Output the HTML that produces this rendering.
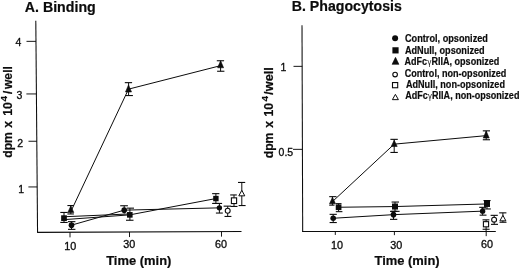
<!DOCTYPE html>
<html lang="en">
<head>
<meta charset="utf-8">
<title>Binding and Phagocytosis</title>
<style>
html,body{margin:0;padding:0;background:#fff;}
svg{display:block;}
svg text{font-family:"Liberation Sans",Arial,Helvetica,sans-serif;fill:#0c0c0c;stroke:#0c0c0c;stroke-width:0.2px;stroke-linejoin:round;}
svg text.n{stroke-width:0.32px;}
svg text tspan.g{stroke-width:0;}
</style>
</head>
<body>
<svg width="520" height="269" viewBox="0 0 520 269" stroke="#0c0c0c" fill="none">
<rect x="0" y="0" width="520" height="269" fill="#fff" stroke="none"/>
<g transform="translate(0,0.15)">
<line x1="35.8" y1="20.5" x2="37.55" y2="232.4" stroke-width="1.05"/>
<line x1="37.1" y1="232.2" x2="241.5" y2="231.4" stroke-width="1.1"/>
<line x1="26.5" y1="41.2" x2="36.0" y2="41.2" stroke-width="0.95"/>
<line x1="26.4" y1="93.8" x2="36.4" y2="93.8" stroke-width="0.95"/>
<line x1="28.5" y1="141.1" x2="36.9" y2="141.1" stroke-width="0.95"/>
<line x1="28.4" y1="186.8" x2="37.2" y2="186.8" stroke-width="0.95"/>
<line x1="70" y1="232.0" x2="70" y2="237.2" stroke-width="0.95"/>
<line x1="129.5" y1="231.8" x2="129.5" y2="236.9" stroke-width="0.95"/>
<line x1="221.5" y1="231.4" x2="221.5" y2="236.5" stroke-width="0.95"/>
<polyline points="70.8,211.5 128.5,89 220.6,65.5" fill="none" stroke-width="1.0"/>
<polyline points="64,219.5 129.8,214.7 215.9,198.4" fill="none" stroke-width="1.0"/>
<line x1="64" y1="216.6" x2="129.8" y2="213.8" stroke-width="1.0"/>
<polyline points="71.5,225 124.2,210 219.4,207.7" fill="none" stroke-width="1.0"/>
<line x1="70.8" y1="205.4" x2="70.8" y2="213.8" stroke-width="1.0"/>
<line x1="67.4" y1="205.4" x2="73.9" y2="205.4" stroke-width="1.1"/>
<line x1="67.4" y1="213.8" x2="73.9" y2="213.8" stroke-width="1.1"/>
<polygon points="70.8,205.8 73.8,212.4 67.8,212.4" fill="#0c0c0c" stroke-width="0.6" stroke-linejoin="miter"/>
<line x1="128.6" y1="82.5" x2="128.6" y2="95.4" stroke-width="1.0"/>
<line x1="124.8" y1="82.5" x2="132.1" y2="82.5" stroke-width="1.1"/>
<line x1="126" y1="95.4" x2="132.9" y2="95.4" stroke-width="1.1"/>
<polygon points="128.5,84.8 131.5,91.8 125.5,91.8" fill="#0c0c0c" stroke-width="0.6" stroke-linejoin="miter"/>
<line x1="220.6" y1="60.6" x2="220.6" y2="71.1" stroke-width="1.0"/>
<line x1="216.8" y1="60.6" x2="224.1" y2="60.6" stroke-width="1.1"/>
<line x1="217.1" y1="71.1" x2="224.4" y2="71.1" stroke-width="1.1"/>
<polygon points="220.6,60.7 223.6,67.6 217.6,67.6" fill="#0c0c0c" stroke-width="0.6" stroke-linejoin="miter"/>
<line x1="64" y1="212.3" x2="64" y2="222.3" stroke-width="1.0"/>
<line x1="60.3" y1="212.3" x2="67.7" y2="212.3" stroke-width="1.1"/>
<line x1="60.3" y1="222.3" x2="67.7" y2="222.3" stroke-width="1.1"/>
<rect x="61.15" y="215.15" width="5.7" height="5.7" fill="#0c0c0c" stroke="none"/>
<line x1="129.9" y1="208" x2="129.9" y2="220.1" stroke-width="1.0"/>
<line x1="126.8" y1="208" x2="134" y2="208" stroke-width="1.1"/>
<line x1="126" y1="220.1" x2="133.5" y2="220.1" stroke-width="1.1"/>
<rect x="127.00" y="211.90" width="5.6" height="5.6" fill="#0c0c0c" stroke="none"/>
<line x1="215.9" y1="193.5" x2="215.9" y2="203.3" stroke-width="1.0"/>
<line x1="212.1" y1="193.5" x2="219.4" y2="193.5" stroke-width="1.1"/>
<line x1="212.1" y1="203.3" x2="219.4" y2="203.3" stroke-width="1.1"/>
<rect x="213.20" y="195.70" width="5.4" height="5.4" fill="#0c0c0c" stroke="none"/>
<line x1="71.5" y1="221.5" x2="71.5" y2="229.2" stroke-width="1.0"/>
<line x1="68" y1="221.5" x2="75.4" y2="221.5" stroke-width="1.1"/>
<line x1="68" y1="229.2" x2="75.4" y2="229.2" stroke-width="1.1"/>
<circle cx="71.5" cy="225" r="2.8" fill="#0c0c0c" stroke="none"/>
<line x1="124.2" y1="205.6" x2="124.2" y2="213.5" stroke-width="1.0"/>
<line x1="120.2" y1="205.6" x2="127.9" y2="205.6" stroke-width="1.1"/>
<line x1="124.2" y1="213.5" x2="124.2" y2="213.5" stroke-width="1.1"/>
<circle cx="124.2" cy="210" r="2.8" fill="#0c0c0c" stroke="none"/>
<line x1="219.4" y1="203.3" x2="219.4" y2="212.9" stroke-width="1.0"/>
<line x1="213" y1="203.3" x2="222.1" y2="203.3" stroke-width="1.1"/>
<line x1="215.9" y1="212.9" x2="222.8" y2="212.9" stroke-width="1.1"/>
<circle cx="219.4" cy="207.7" r="2.7" fill="#0c0c0c" stroke="none"/>
<line x1="227.7" y1="206" x2="227.7" y2="216.3" stroke-width="1.0"/>
<line x1="223.6" y1="206" x2="231.1" y2="206" stroke-width="1.1"/>
<line x1="224.5" y1="216.3" x2="231.4" y2="216.3" stroke-width="1.1"/>
<circle cx="227.7" cy="210.6" r="2.45" fill="#fff" stroke-width="1.1"/>
<line x1="234" y1="194.8" x2="234" y2="206.3" stroke-width="1.0"/>
<line x1="230.2" y1="194.8" x2="236.8" y2="194.8" stroke-width="1.1"/>
<line x1="230.6" y1="206.3" x2="237.5" y2="206.3" stroke-width="1.1"/>
<rect x="231.4" y="197.7" width="5.2" height="5.7" fill="#fff" stroke-width="1.1"/>
<line x1="241.8" y1="182.3" x2="241.8" y2="205.4" stroke-width="1.0"/>
<line x1="238" y1="182.3" x2="245.2" y2="182.3" stroke-width="1.1"/>
<line x1="238.6" y1="205.4" x2="245.6" y2="205.4" stroke-width="1.1"/>
<polygon points="241.8,190.2 244.8,195.7 238.8,195.7" fill="#fff" stroke-width="1.0" stroke-linejoin="miter"/>
<line x1="302.0" y1="25" x2="302.7" y2="231.8" stroke-width="1.05"/>
<line x1="302.3" y1="231.3" x2="495.8" y2="231.3" stroke-width="1.1"/>
<line x1="293.5" y1="66.2" x2="302.2" y2="66.2" stroke-width="0.95"/>
<line x1="293.0" y1="149.2" x2="302.4" y2="149.2" stroke-width="0.95"/>
<line x1="335.3" y1="231.3" x2="335.3" y2="234.8" stroke-width="0.95"/>
<line x1="394.4" y1="231.3" x2="394.4" y2="235" stroke-width="0.95"/>
<line x1="486.2" y1="231.3" x2="486.2" y2="236.0" stroke-width="0.95"/>
<polyline points="332.4,201.5 394.2,144 486.2,135.5" fill="none" stroke-width="1.0"/>
<polyline points="338.6,207.1 395,206.4 487,203.8" fill="none" stroke-width="1.0"/>
<polyline points="333.2,218.1 393.5,214.5 482.6,211" fill="none" stroke-width="1.0"/>
<line x1="332.4" y1="196.5" x2="332.4" y2="205" stroke-width="1.0"/>
<line x1="329.2" y1="196.5" x2="336.5" y2="196.5" stroke-width="1.1"/>
<line x1="329.2" y1="205" x2="334.5" y2="205" stroke-width="1.1"/>
<polygon points="332.5,197.2 335.5,203.6 329.5,203.6" fill="#0c0c0c" stroke-width="0.6" stroke-linejoin="miter"/>
<line x1="394.2" y1="139.2" x2="394.2" y2="152.3" stroke-width="1.0"/>
<line x1="390.4" y1="139.2" x2="397.8" y2="139.2" stroke-width="1.1"/>
<line x1="390.4" y1="152.3" x2="397.8" y2="152.3" stroke-width="1.1"/>
<polygon points="394.2,140.2 397.2,146.3 391.2,146.3" fill="#0c0c0c" stroke-width="0.6" stroke-linejoin="miter"/>
<line x1="486.2" y1="130.7" x2="486.2" y2="139.6" stroke-width="1.0"/>
<line x1="482.8" y1="130.7" x2="490" y2="130.7" stroke-width="1.1"/>
<line x1="482.8" y1="139.6" x2="490" y2="139.6" stroke-width="1.1"/>
<polygon points="486.2,130.8 489.2,137.9 483.2,137.9" fill="#0c0c0c" stroke-width="0.6" stroke-linejoin="miter"/>
<line x1="338.6" y1="203.5" x2="338.6" y2="211.5" stroke-width="1.0"/>
<line x1="335.8" y1="203.5" x2="341.5" y2="203.5" stroke-width="1.1"/>
<line x1="335.8" y1="211.5" x2="342.4" y2="211.5" stroke-width="1.1"/>
<rect x="335.75" y="204.25" width="5.7" height="5.7" fill="#0c0c0c" stroke="none"/>
<line x1="395" y1="201.9" x2="395" y2="211.2" stroke-width="1.0"/>
<line x1="391.6" y1="201.9" x2="399" y2="201.9" stroke-width="1.1"/>
<line x1="391.2" y1="211.2" x2="399.6" y2="211.2" stroke-width="1.1"/>
<rect x="392.00" y="203.40" width="6.0" height="6.0" fill="#0c0c0c" stroke="none"/>
<line x1="487" y1="200.4" x2="487" y2="208.8" stroke-width="1.0"/>
<line x1="483.5" y1="200.4" x2="490.6" y2="200.4" stroke-width="1.1"/>
<line x1="481.2" y1="208.8" x2="490.8" y2="208.8" stroke-width="1.1"/>
<rect x="484.00" y="200.80" width="6.0" height="6.0" fill="#0c0c0c" stroke="none"/>
<line x1="333.2" y1="214.2" x2="333.2" y2="222.4" stroke-width="1.0"/>
<line x1="329.6" y1="214.2" x2="336.8" y2="214.2" stroke-width="1.1"/>
<line x1="329.6" y1="222.4" x2="336.8" y2="222.4" stroke-width="1.1"/>
<circle cx="333.2" cy="218.1" r="2.8" fill="#0c0c0c" stroke="none"/>
<line x1="393.5" y1="211.2" x2="393.5" y2="219.2" stroke-width="1.0"/>
<line x1="390" y1="211.2" x2="397.3" y2="211.2" stroke-width="1.1"/>
<line x1="390" y1="219.2" x2="397.3" y2="219.2" stroke-width="1.1"/>
<circle cx="393.5" cy="214.5" r="2.8" fill="#0c0c0c" stroke="none"/>
<line x1="482.6" y1="207.2" x2="482.6" y2="215" stroke-width="1.0"/>
<line x1="479.2" y1="207.2" x2="486.3" y2="207.2" stroke-width="1.1"/>
<line x1="479.6" y1="215" x2="486.5" y2="215" stroke-width="1.1"/>
<circle cx="482.6" cy="211" r="2.7" fill="#0c0c0c" stroke="none"/>
<line x1="486.1" y1="219.7" x2="486.1" y2="231.2" stroke-width="1.0"/>
<line x1="482.5" y1="219.7" x2="489.4" y2="219.7" stroke-width="1.1"/>
<line x1="486.1" y1="231.2" x2="486.1" y2="231.2" stroke-width="1.1"/>
<line x1="482.6" y1="229.1" x2="489.6" y2="229.1" stroke-width="1.1"/>
<rect x="483.40" y="221.50" width="5.2" height="5.2" fill="#fff" stroke-width="1.1"/>
<line x1="494.2" y1="215.2" x2="494.2" y2="224.2" stroke-width="1.0"/>
<line x1="490.6" y1="215.2" x2="497.8" y2="215.2" stroke-width="1.1"/>
<line x1="491" y1="224.2" x2="498" y2="224.2" stroke-width="1.1"/>
<circle cx="494.1" cy="219.5" r="2.45" fill="#fff" stroke-width="1.1"/>
<line x1="502.9" y1="212.7" x2="502.9" y2="222.1" stroke-width="1.0"/>
<line x1="499.2" y1="212.7" x2="506.4" y2="212.7" stroke-width="1.1"/>
<line x1="499.5" y1="222.1" x2="506.5" y2="222.1" stroke-width="1.1"/>
<polygon points="502.9,215.2 505.9,220.7 499.9,220.7" fill="#fff" stroke-width="1.0" stroke-linejoin="miter"/>
<circle cx="395.1" cy="38.1" r="3.0" fill="#0c0c0c" stroke="none"/>
<rect x="392.40" y="47.10" width="6.2" height="6.2" fill="#0c0c0c" stroke="none"/>
<polygon points="395.5,57.2 398.9,64.2 392.1,64.2" fill="#0c0c0c" stroke-width="0.6" stroke-linejoin="miter"/>
<circle cx="395.1" cy="74.4" r="2.3" fill="#fff" stroke-width="1.1"/>
<rect x="392.50" y="82.40" width="5.2" height="5.2" fill="#fff" stroke-width="1.1"/>
<polygon points="395.4,94.19999999999999 398.4,99.5 392.4,99.5" fill="#fff" stroke-width="1.0" stroke-linejoin="miter"/>
</g>
<text x="24.8" y="12.1" font-size="14.2" font-weight="bold" class="b" text-anchor="start">A. Binding</text>
<text x="21.3" y="46.4" font-size="10.5" class="n" text-anchor="end">4</text>
<text x="22.3" y="98.6" font-size="10.5" class="n" text-anchor="end">3</text>
<text x="23.2" y="147.0" font-size="10.5" class="n" text-anchor="end">2</text>
<text x="24.0" y="192.7" font-size="10.5" class="n" text-anchor="end">1</text>
<text x="70.3" y="250.0" font-size="10.8" class="n" text-anchor="middle">10</text>
<text x="129.2" y="248.0" font-size="10.8" class="n" text-anchor="middle">30</text>
<text x="221.0" y="248.0" font-size="10.8" class="n" text-anchor="middle">60</text>
<text x="138.8" y="265.3" font-size="12.95" font-weight="bold" class="b" text-anchor="middle">Time (min)</text>
<text transform="translate(12.3,157.8) rotate(-90)" font-size="12.2" font-weight="bold" class="b"><tspan x="0">dpm</tspan> <tspan x="30">x</tspan> <tspan x="42">10</tspan><tspan x="56.3" dy="-5" font-size="9.9">4</tspan><tspan x="63.9" dy="5">/</tspan><tspan x="68.7" font-size="12.2">well</tspan></text>
<text x="291.8" y="11.4" font-size="14.15" font-weight="bold" class="b" text-anchor="start">B. Phagocytosis</text>
<text x="286.3" y="70.9" font-size="10.5" class="n" text-anchor="end">1</text>
<text x="293.2" y="155.5" font-size="10.5" class="n" text-anchor="end">0.5</text>
<text x="337.1" y="249.3" font-size="10.8" class="n" text-anchor="middle">10</text>
<text x="396.2" y="249.0" font-size="10.8" class="n" text-anchor="middle">30</text>
<text x="487.0" y="247.6" font-size="10.8" class="n" text-anchor="middle">60</text>
<text x="407.1" y="265.4" font-size="12.95" font-weight="bold" class="b" text-anchor="middle">Time (min)</text>
<text transform="translate(273.35,158.3) rotate(-90)" font-size="12.2" font-weight="bold" class="b"><tspan x="0">dpm</tspan> <tspan x="30.5">x</tspan> <tspan x="41.9">10</tspan><tspan x="56.9" dy="-5" font-size="9.9">4</tspan><tspan x="63.6" dy="5">/</tspan><tspan x="67.0" font-size="12.8">well</tspan></text>
<text x="405.0" y="41.5" font-size="10" font-weight="bold" class="b" text-anchor="start" textLength="82.9" lengthAdjust="spacingAndGlyphs">Control, opsonized</text>
<text x="404.9" y="54.2" font-size="10" font-weight="bold" class="b" text-anchor="start" textLength="79.8" lengthAdjust="spacingAndGlyphs">AdNull, opsonized</text>
<text x="404.5" y="64.6" font-size="10" font-weight="bold" class="b" text-anchor="start" textLength="94.8" lengthAdjust="spacingAndGlyphs">AdFc<tspan class="g" font-family="'DejaVu Sans',sans-serif" font-weight="normal" font-size="8">γ</tspan>RIIA, opsonized</text>
<text x="404.7" y="76.6" font-size="10" font-weight="bold" class="b" text-anchor="start" textLength="101.7" lengthAdjust="spacingAndGlyphs">Control, non-opsonized</text>
<text x="405.9" y="87.6" font-size="10" font-weight="bold" class="b" text-anchor="start" textLength="99.1" lengthAdjust="spacingAndGlyphs">AdNull, non-opsonized</text>
<text x="405.2" y="99.3" font-size="10" font-weight="bold" class="b" text-anchor="start" textLength="114.2" lengthAdjust="spacingAndGlyphs">AdFc<tspan class="g" font-family="'DejaVu Sans',sans-serif" font-weight="normal" font-size="8">γ</tspan>RIIA, non-opsonized</text>
</svg>
</body>
</html>
